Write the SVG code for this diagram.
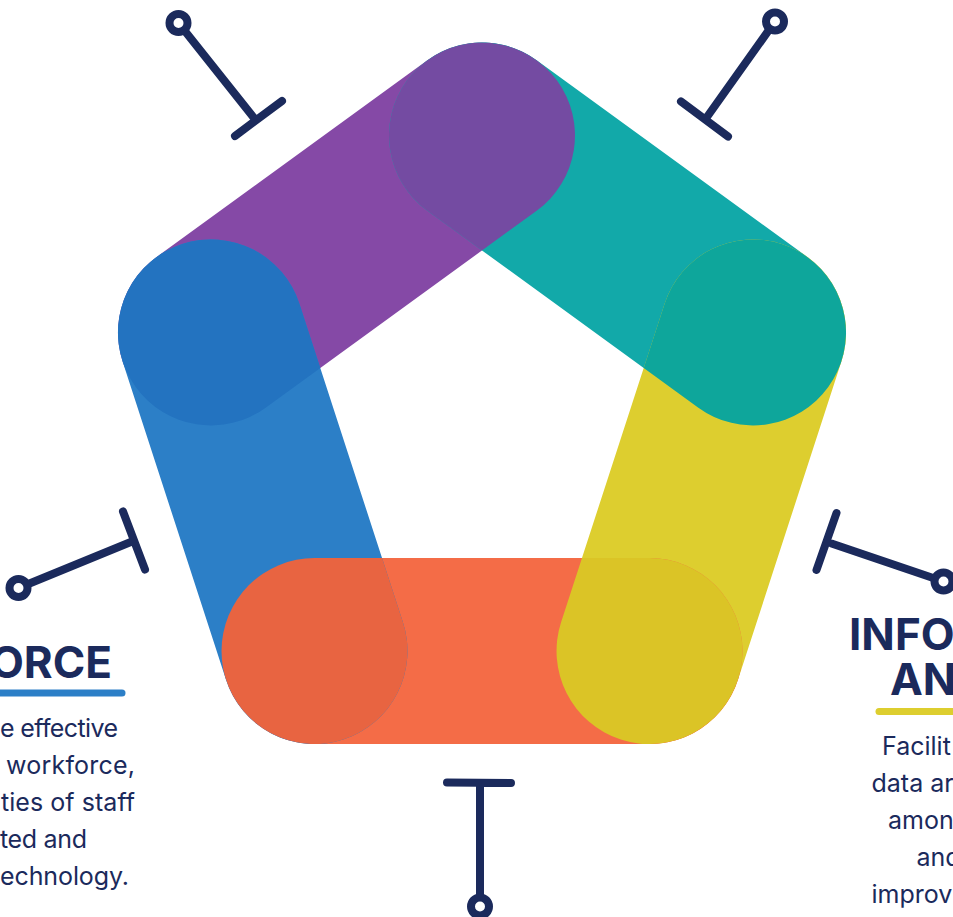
<svg xmlns="http://www.w3.org/2000/svg" width="953" height="917" viewBox="0 0 953 917">
<style>
.pin{fill:none;stroke:#1B2A5C;stroke-width:8;stroke-linecap:round;stroke-linejoin:round}
.eye{fill:#fff;stroke:#1B2A5C;stroke-width:8}
.h{font-family:Inter,"Noto Sans",sans-serif;font-weight:700;font-size:44px;fill:#1B2A5C}
.b{font-family:Inter,"Noto Sans",sans-serif;font-size:25px;fill:#1B2A5C}
.ul{fill:none;stroke-width:7;stroke-linecap:round}
</style>
<defs>
<rect id="rP" x="-260.5" y="-93" width="521" height="186" rx="93" transform="translate(346.475 233.965) rotate(-36)"/>
<rect id="rT" x="-260.5" y="-93" width="521" height="186" rx="93" transform="translate(617.525 233.965) rotate(36)"/>
<rect id="rY" x="-260.5" y="-93" width="521" height="186" rx="93" transform="translate(701.285 491.75) rotate(108)"/>
<rect id="rO" x="-260.5" y="-93" width="521" height="186" rx="93" transform="translate(482 651.07)"/>
<rect id="rB" x="-260.5" y="-93" width="521" height="186" rx="93" transform="translate(262.715 491.75) rotate(72)"/>
<clipPath id="cT"><rect x="-260.5" y="-93" width="521" height="186" rx="93" transform="translate(617.525 233.965) rotate(36)"/></clipPath>
<clipPath id="cP"><rect x="-260.5" y="-93" width="521" height="186" rx="93" transform="translate(346.475 233.965) rotate(-36)"/></clipPath>
<clipPath id="cY"><rect x="-260.5" y="-93" width="521" height="186" rx="93" transform="translate(701.285 491.75) rotate(108)"/></clipPath>
<clipPath id="cO"><rect x="-260.5" y="-93" width="521" height="186" rx="93" transform="translate(482 651.07)"/></clipPath>
<clipPath id="cB"><rect x="-260.5" y="-93" width="521" height="186" rx="93" transform="translate(262.715 491.75) rotate(72)"/></clipPath>
</defs>
<rect width="953" height="917" fill="#fff"/>
<g id="bar-purple"><use href="#rP" fill="#8549A6"/></g>
<g id="bar-teal"><use href="#rT" fill="#12A9A9"/></g>
<g id="bar-yellow"><use href="#rY" fill="#DDCE2F"/></g>
<g id="bar-orange"><use href="#rO" fill="#F46C47"/></g>
<g id="bar-blue"><use href="#rB" fill="#2C7FC7"/></g>
<g id="overlaps">
<g clip-path="url(#cT)"><use href="#rP" fill="#744BA2"/></g>
<g clip-path="url(#cP)"><use href="#rB" fill="#2373C0"/></g>
<g clip-path="url(#cY)"><use href="#rT" fill="#0EA69B"/></g>
<g clip-path="url(#cO)"><use href="#rY" fill="#DBC426"/></g>
<g clip-path="url(#cB)"><use href="#rO" fill="#E86441"/></g>
</g>
<g id="connectors">
<path class="pin" d="M178.5 23 L254 118 M235 136 L282 101"/>
<circle class="eye" cx="178.5" cy="23" r="9"/>
<path class="pin" d="M775 21.5 L707 117 M681 101.5 L728 136.5"/>
<circle class="eye" cx="775" cy="21.5" r="9"/>
<path class="pin" d="M18.5 588 L132 541.5 M123 511.5 L145 569.5"/>
<circle class="eye" cx="18.5" cy="588" r="9"/>
<path class="pin" d="M943.5 581.5 L831.5 543.5 M836.5 513 L816.5 570"/>
<circle class="eye" cx="943.5" cy="581.5" r="9"/>
<path class="pin" d="M480 906.5 L480 783 M447 782.5 L511 783"/>
<circle class="eye" cx="480" cy="906.5" r="9"/>
</g>
<g id="label-workforce">
<text class="h" x="112" y="678" text-anchor="end">ORCE</text>
<path class="ul" stroke="#2C7FC7" d="M-10 693 L122 693"/>
<text class="b">
<tspan x="0" y="736.5" textLength="118" lengthAdjust="spacing">e effective</tspan>
<tspan x="6" y="773.5" textLength="129" lengthAdjust="spacing">workforce,</tspan>
<tspan x="1" y="810.5" textLength="134" lengthAdjust="spacing">ties of staff</tspan>
<tspan x="0" y="847.5" textLength="87" lengthAdjust="spacing">ted and</tspan>
<tspan x="0" y="884.5" textLength="129" lengthAdjust="spacing">echnology.</tspan>
</text>
</g>
<g id="label-information">
<text class="h" x="849" y="650">INFO</text>
<text class="h" x="890" y="695">AN</text>
<path class="ul" stroke="#DDCE2F" d="M879 711.5 L970 711.5"/>
<text class="b"><tspan x="882" y="755">Facilit</tspan><tspan x="871.5" y="792">data ar</tspan><tspan x="888" y="829">amon</tspan><tspan x="916.5" y="866">and</tspan><tspan x="871.5" y="903">improv</tspan></text>
</g>
</svg>
